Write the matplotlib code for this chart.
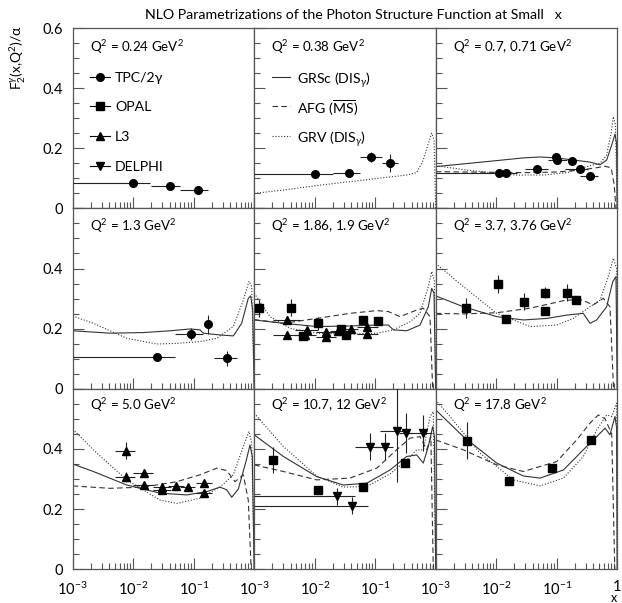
import matplotlib
matplotlib.use('Agg')
import matplotlib.pyplot as plt
from matplotlib.ticker import MultipleLocator, LogLocator, NullFormatter
import numpy as np

plt.rcParams['font.family'] = ['Lato', 'DejaVu Sans']
plt.rcParams['mathtext.fontset'] = 'custom'
plt.rcParams['mathtext.rm'] = 'Lato'
plt.rcParams['mathtext.it'] = 'Lato:italic'
plt.rcParams['mathtext.bf'] = 'Lato:bold'

# --- Courbes théoriques : GRSc (trait plein), AFG (tirets), GRV (pointillés) ---

# Q2 = 0.38
grv_038_x = [0.001, 0.00303, 0.0108, 0.0383, 0.136, 0.332, 0.485, 0.624, 0.755, 0.859, 0.938, 1.0]
grv_038_y = [0.050, 0.061, 0.076, 0.089, 0.102, 0.111, 0.119, 0.161, 0.216, 0.250, 0.227, 0.0]

# Q2 = 0.7, 0.71
grsc_07_x = [0.001, 0.00286, 0.0102, 0.0281, 0.053, 0.1, 0.188, 0.355, 0.52, 0.67, 0.811, 0.92, 0.977, 1.0]
grsc_07_y = [0.139, 0.148, 0.159, 0.168, 0.171, 0.168, 0.161, 0.154, 0.145, 0.161, 0.211, 0.247, 0.216, 0.0]
afg_07_x = [0.001, 0.01, 0.0316, 0.1, 0.251, 0.447, 0.631, 0.794, 0.891, 0.955]
afg_07_y = [0.122, 0.120, 0.119, 0.121, 0.128, 0.135, 0.140, 0.135, 0.080, 0.0]
grv_07_x = [0.001, 0.00316, 0.01, 0.0219, 0.0631, 0.158, 0.243, 0.355, 0.52, 0.661, 0.794, 0.863, 0.933, 1.0]
grv_07_y = [0.142, 0.128, 0.117, 0.111, 0.111, 0.120, 0.133, 0.142, 0.150, 0.175, 0.250, 0.305, 0.280, 0.0]

# Q2 = 1.3
grsc_13_x = [0.001, 0.00413, 0.0147, 0.0406, 0.0869, 0.127, 0.144, 0.272, 0.452, 0.621, 0.798, 0.875, 0.944, 1.0]
grsc_13_y = [0.193, 0.185, 0.187, 0.193, 0.199, 0.196, 0.185, 0.179, 0.176, 0.218, 0.301, 0.309, 0.262, 0.0]
grv_13_x = [0.001, 0.00219, 0.00782, 0.0244, 0.0524, 0.127, 0.24, 0.452, 0.661, 0.82, 0.91, 1.0]
grv_13_y = [0.242, 0.218, 0.168, 0.149, 0.151, 0.157, 0.168, 0.207, 0.295, 0.358, 0.340, 0.0]

# Q2 = 1.86, 1.9
grsc_19_x = [0.001, 0.00303, 0.0108, 0.0383, 0.106, 0.165, 0.2, 0.332, 0.55, 0.755, 0.859, 0.938, 1.0]
grsc_19_y = [0.229, 0.218, 0.207, 0.209, 0.212, 0.212, 0.196, 0.193, 0.212, 0.273, 0.334, 0.318, 0.0]
afg_19_x = [0.001, 0.00303, 0.0108, 0.0383, 0.106, 0.165, 0.257, 0.485, 0.624, 0.805, 0.891]
afg_19_y = [0.230, 0.218, 0.234, 0.251, 0.260, 0.257, 0.240, 0.262, 0.268, 0.240, 0.0]
grv_19_x = [0.001, 0.00182, 0.00391, 0.0108, 0.0383, 0.106, 0.2, 0.376, 0.55, 0.755, 0.859, 0.948, 1.0]
grv_19_y = [0.318, 0.240, 0.201, 0.185, 0.182, 0.185, 0.196, 0.223, 0.251, 0.340, 0.390, 0.360, 0.0]

# Q2 = 3.7, 3.76
grsc_37_x = [0.001, 0.00286, 0.0102, 0.0281, 0.0684, 0.146, 0.275, 0.355, 0.458, 0.67, 0.843, 0.955, 1.0]
grsc_37_y = [0.309, 0.273, 0.240, 0.229, 0.234, 0.245, 0.251, 0.218, 0.229, 0.273, 0.356, 0.373, 0.0]
afg_37_x = [0.001, 0.00286, 0.0102, 0.0363, 0.129, 0.243, 0.403, 0.589, 0.759, 0.871]
afg_37_y = [0.251, 0.249, 0.253, 0.268, 0.293, 0.298, 0.279, 0.301, 0.273, 0.0]
grv_37_x = [0.001, 0.00286, 0.0102, 0.0363, 0.1, 0.188, 0.355, 0.52, 0.713, 0.863, 0.977, 1.0]
grv_37_y = [0.417, 0.340, 0.251, 0.207, 0.212, 0.234, 0.273, 0.295, 0.373, 0.434, 0.400, 0.0]

# Q2 = 5.0
grsc_50_x = [0.001, 0.00219, 0.00782, 0.0277, 0.0766, 0.164, 0.272, 0.351, 0.425, 0.547, 0.731, 0.851, 0.931, 1.0]
grsc_50_y = [0.350, 0.325, 0.280, 0.253, 0.247, 0.258, 0.273, 0.264, 0.239, 0.267, 0.358, 0.413, 0.375, 0.0]
afg_50_x = [0.001, 0.00413, 0.0147, 0.0524, 0.127, 0.24, 0.351, 0.482, 0.661, 0.798, 0.891]
afg_50_y = [0.277, 0.269, 0.273, 0.291, 0.314, 0.336, 0.328, 0.291, 0.314, 0.230, 0.0]
grv_50_x = [0.001, 0.00219, 0.00782, 0.0277, 0.0524, 0.127, 0.272, 0.452, 0.705, 0.82, 0.91, 1.0]
grv_50_y = [0.466, 0.397, 0.297, 0.230, 0.219, 0.236, 0.273, 0.314, 0.424, 0.458, 0.420, 0.0]

# Q2 = 10.7, 12
grsc_12_x = [0.001, 0.00303, 0.0108, 0.0297, 0.0724, 0.176, 0.332, 0.485, 0.624, 0.755, 0.891, 0.955, 1.0]
grsc_12_y = [0.447, 0.375, 0.308, 0.280, 0.286, 0.330, 0.375, 0.380, 0.353, 0.408, 0.474, 0.440, 0.0]
afg_12_x = [0.001, 0.00303, 0.0108, 0.0383, 0.106, 0.226, 0.376, 0.55, 0.71, 0.832, 0.912]
afg_12_y = [0.347, 0.325, 0.297, 0.303, 0.336, 0.397, 0.436, 0.441, 0.397, 0.440, 0.0]
grv_12_x = [0.001, 0.00303, 0.0108, 0.0297, 0.0724, 0.176, 0.332, 0.485, 0.624, 0.805, 0.912, 1.0]
grv_12_y = [0.519, 0.408, 0.310, 0.273, 0.275, 0.317, 0.363, 0.397, 0.397, 0.507, 0.524, 0.0]

# Q2 = 17.8
grsc_178_x = [0.001, 0.00286, 0.0102, 0.0281, 0.053, 0.129, 0.275, 0.458, 0.631, 0.759, 0.92, 0.977, 1.0]
grsc_178_y = [0.530, 0.441, 0.353, 0.310, 0.303, 0.330, 0.397, 0.441, 0.469, 0.447, 0.508, 0.470, 0.0]
afg_178_x = [0.001, 0.00286, 0.0102, 0.0281, 0.1, 0.214, 0.355, 0.488, 0.631, 0.811, 0.912]
afg_178_y = [0.430, 0.397, 0.347, 0.325, 0.358, 0.430, 0.486, 0.513, 0.500, 0.450, 0.0]
grv_178_x = [0.001, 0.00172, 0.0054, 0.0192, 0.053, 0.129, 0.275, 0.458, 0.67, 0.813, 0.977, 1.0]
grv_178_y = [0.563, 0.508, 0.386, 0.297, 0.277, 0.303, 0.375, 0.463, 0.513, 0.508, 0.552, 0.0]

# --- Mesures (x, F2/alpha, bornes en x, erreur en F2) ---

tpc_024_x = [0.010, 0.0405, 0.119]
tpc_024_y = [0.083, 0.0745, 0.061]
tpc_024_xlo = [0.001, 0.020, 0.0605]
tpc_024_xhi = [0.0192, 0.0594, 0.174]
tpc_024_err = [0.003, 0.003, 0.003]

tpc_038_x = [0.0101, 0.0369, 0.0843, 0.176]
tpc_038_y = [0.113, 0.117, 0.172, 0.150]
tpc_038_xlo = [0.001, 0.0204, 0.0562, 0.128]
tpc_038_xhi = [0.0204, 0.0562, 0.128, 0.241]
tpc_038_err = [0.003, 0.005, 0.017, 0.030]

tpc_07_x = [0.0111, 0.0145, 0.048, 0.096, 0.101, 0.177, 0.243, 0.355]
tpc_07_y = [0.119, 0.117, 0.130, 0.170, 0.161, 0.159, 0.130, 0.108]
tpc_07_xlo = [0.001, 0.0123, 0.0299, 0.085, 0.0726, 0.160, 0.137, 0.243]
tpc_07_xhi = [0.0123, 0.0218, 0.0726, 0.110, 0.146, 0.195, 0.333, 0.488]
tpc_07_err = [0.004, 0.004, 0.006, 0.012, 0.008, 0.012, 0.008, 0.012]

tpc_13_x = [0.025, 0.089, 0.170, 0.359]
tpc_13_y = [0.105, 0.182, 0.214, 0.101]
tpc_13_xlo = [0.001, 0.0491, 0.160, 0.216]
tpc_13_xhi = [0.0491, 0.144, 0.180, 0.514]
tpc_13_err = [0.004, 0.020, 0.033, 0.025]

opal_19_x = [0.00122, 0.00401, 0.0065, 0.0112, 0.0269, 0.0325, 0.062, 0.110]
opal_19_y = [0.268, 0.270, 0.177, 0.218, 0.199, 0.179, 0.229, 0.225]
opal_19_err = [0.028, 0.028, 0.008, 0.022, 0.010, 0.010, 0.012, 0.008]

l3_19_x = [0.00352, 0.00352, 0.0069, 0.0074, 0.0154, 0.0154, 0.0245, 0.0394, 0.074, 0.074]
l3_19_y = [0.229, 0.179, 0.178, 0.196, 0.173, 0.188, 0.192, 0.198, 0.204, 0.182]
l3_19_xlo = [0.00207, 0.00207, 0.0045, 0.0047, 0.0105, 0.0105, 0.018, 0.030, 0.050, 0.050]
l3_19_xhi = [0.00571, 0.00571, 0.0105, 0.0115, 0.0225, 0.0225, 0.033, 0.052, 0.110, 0.110]
l3_19_err = [0.012, 0.008, 0.008, 0.010, 0.010, 0.010, 0.010, 0.010, 0.015, 0.010]

opal_37_x = [0.00317, 0.01084, 0.0145, 0.0288, 0.0649, 0.0649, 0.146, 0.206]
opal_37_y = [0.270, 0.349, 0.231, 0.290, 0.320, 0.260, 0.320, 0.295]
opal_37_err = [0.033, 0.030, 0.008, 0.028, 0.018, 0.008, 0.027, 0.010]

l3_50_x = [0.0075, 0.0075, 0.0151, 0.0151, 0.0303, 0.0303, 0.0504, 0.0794, 0.150, 0.150]
l3_50_y = [0.394, 0.306, 0.321, 0.280, 0.275, 0.264, 0.278, 0.273, 0.288, 0.253]
l3_50_xlo = [0.005, 0.005, 0.010, 0.010, 0.021, 0.021, 0.037, 0.060, 0.110, 0.110]
l3_50_xhi = [0.0107, 0.0107, 0.0215, 0.0215, 0.042, 0.042, 0.068, 0.105, 0.200, 0.200]
l3_50_err = [0.028, 0.017, 0.012, 0.010, 0.010, 0.010, 0.010, 0.010, 0.010, 0.010]

opal_12_x = [0.00207, 0.0115, 0.0636, 0.311]
opal_12_y = [0.363, 0.264, 0.275, 0.353]
opal_12_err = [0.042, 0.008, 0.010, 0.010]

delphi_12_x = [0.0237, 0.0408, 0.082, 0.145, 0.226, 0.319, 0.624]
delphi_12_y = [0.242, 0.211, 0.408, 0.408, 0.458, 0.452, 0.452]
delphi_12_xlo = [0.001, 0.001, 0.0464, 0.100, 0.120, 0.250, 0.331]
delphi_12_xhi = [0.0464, 0.0769, 0.136, 0.200, 0.311, 0.400, 0.859]
delphi_12_err = [0.028, 0.028, 0.044, 0.044, 0.167, 0.066, 0.060]

opal_178_x = [0.00325, 0.0165, 0.0836, 0.365]
opal_178_y = [0.428, 0.295, 0.336, 0.430]
opal_178_err = [0.060, 0.008, 0.010, 0.010]

q2_values = [
    ["0.24", "0.38", "0.7, 0.71"],
    ["1.3", "1.86, 1.9", "3.7, 3.76"],
    ["5.0", "10.7, 12", "17.8"],
]
exp_names = ['TPC/2γ', 'OPAL', 'L3', 'DELPHI']
fit_names = ['GRSc (DIS$_\\gamma$)', 'AFG ($\\overline{\\rm MS}$)', 'GRV (DIS$_\\gamma$)']

CURVE = '#333333'
FRAME = '#555555'
SOLID, DASHED, DOTTED = '-', (0, (5, 3)), (0, (1, 1.6))

# panneau -> liste de courbes (x, y, style)
curves = {
    (0, 1): [(grv_038_x, grv_038_y, DOTTED)],
    (0, 2): [(grsc_07_x, grsc_07_y, SOLID), (afg_07_x, afg_07_y, DASHED), (grv_07_x, grv_07_y, DOTTED)],
    (1, 0): [(grsc_13_x, grsc_13_y, SOLID), (grv_13_x, grv_13_y, DOTTED)],
    (1, 1): [(grsc_19_x, grsc_19_y, SOLID), (afg_19_x, afg_19_y, DASHED), (grv_19_x, grv_19_y, DOTTED)],
    (1, 2): [(grsc_37_x, grsc_37_y, SOLID), (afg_37_x, afg_37_y, DASHED), (grv_37_x, grv_37_y, DOTTED)],
    (2, 0): [(grsc_50_x, grsc_50_y, SOLID), (afg_50_x, afg_50_y, DASHED), (grv_50_x, grv_50_y, DOTTED)],
    (2, 1): [(grsc_12_x, grsc_12_y, SOLID), (afg_12_x, afg_12_y, DASHED), (grv_12_x, grv_12_y, DOTTED)],
    (2, 2): [(grsc_178_x, grsc_178_y, SOLID), (afg_178_x, afg_178_y, DASHED), (grv_178_x, grv_178_y, DOTTED)],
}

# panneau -> liste de jeux de mesures (x, y, xlo, xhi, erreur, marqueur, taille)
points = {
    (0, 0): [(tpc_024_x, tpc_024_y, tpc_024_xlo, tpc_024_xhi, tpc_024_err, 'o', 5.5)],
    (0, 1): [(tpc_038_x, tpc_038_y, tpc_038_xlo, tpc_038_xhi, tpc_038_err, 'o', 5.5)],
    (0, 2): [(tpc_07_x, tpc_07_y, tpc_07_xlo, tpc_07_xhi, tpc_07_err, 'o', 5.5)],
    (1, 0): [(tpc_13_x, tpc_13_y, tpc_13_xlo, tpc_13_xhi, tpc_13_err, 'o', 5.5)],
    (1, 1): [(opal_19_x, opal_19_y, None, None, opal_19_err, 's', 5.5),
             (l3_19_x, l3_19_y, l3_19_xlo, l3_19_xhi, l3_19_err, '^', 6)],
    (1, 2): [(opal_37_x, opal_37_y, None, None, opal_37_err, 's', 5.5)],
    (2, 0): [(l3_50_x, l3_50_y, l3_50_xlo, l3_50_xhi, l3_50_err, '^', 6)],
    (2, 1): [(opal_12_x, opal_12_y, None, None, opal_12_err, 's', 5.5),
             (delphi_12_x, delphi_12_y, delphi_12_xlo, delphi_12_xhi, delphi_12_err, 'v', 6)],
    (2, 2): [(opal_178_x, opal_178_y, None, None, opal_178_err, 's', 5.5)],
}

fig = plt.figure(figsize=(6.22, 6.03), dpi=100)

W, H = 622.0, 603.0
left0, top0 = 72.7, 28.0
pw, ph = 181.5, 180.4
label_y = [0.897, 0.9, 0.91]

axes = {}
for r in range(3):
    for c in range(3):
        ax = fig.add_axes([(left0 + c * pw) / W, 1 - (top0 + (r + 1) * ph) / H, pw / W, ph / H])
        axes[(r, c)] = ax
        ax.set_xscale('log')
        ax.set_xlim(1e-3, 1)
        ax.set_ylim(0, 0.6)
        for s in ax.spines.values():
            s.set_color(FRAME)
            s.set_linewidth(0.9)
        ax.tick_params(which='both', direction='in', top=False, right=False, color=FRAME, width=0.8)
        ax.tick_params(which='major', length=8, labelsize=10.5)
        ax.tick_params(axis='x', which='major', pad=8)
        ax.tick_params(axis='y', which='major', pad=7)
        ax.tick_params(which='minor', length=4.5)
        ax.xaxis.set_minor_locator(LogLocator(base=10, subs=np.arange(2, 10), numticks=12))
        ax.xaxis.set_minor_formatter(NullFormatter())
        ax.set_xticks([1e-3, 1e-2, 1e-1, 1])
        if r == 2:
            ax.set_xticklabels(['$10^{-3}$', '$10^{-2}$', '$10^{-1}$', '1' if c == 2 else ''])
        else:
            ax.set_xticklabels([])
        ax.set_yticks([0, 0.2, 0.4, 0.6])
        ax.yaxis.set_minor_locator(MultipleLocator(0.05))
        if c == 0:
            ax.set_yticklabels(['0', '0.2', '0.4', '0.6' if r == 0 else ''])
        else:
            ax.set_yticklabels([])

        for cx, cy, ls in curves.get((r, c), []):
            ax.plot(cx, cy, color=CURVE, lw=0.8, ls=ls)

        for px, py, xlo, xhi, err, mk, ms in points.get((r, c), []):
            xerr = None
            if xlo is not None:
                xerr = [np.subtract(px, xlo), np.subtract(xhi, px)]
            ax.errorbar(px, py, xerr=xerr, yerr=err, fmt=mk, ms=ms, color='black',
                        ecolor='#222222', elinewidth=0.8, capsize=0, zorder=5)

        ax.text(0.095, label_y[r], 'Q$^2$ = %s GeV$^2$' % q2_values[r][c], transform=ax.transAxes,
                fontsize=9.6, va='center', ha='left')

# légendes dessinées à la main (lignes régulières)
leg_rows = [0.730, 0.565, 0.400, 0.236]
ax = axes[(0, 0)]
for i, (name, mk, ms) in enumerate(zip(exp_names, ['o', 's', '^', 'v'], [5.5, 5.5, 6, 6])):
    yy = leg_rows[i]
    ax.plot([0.095, 0.205], [yy, yy], color='black', lw=0.8, transform=ax.transAxes)
    ax.plot([0.150], [yy], marker=mk, ms=ms, color='black', transform=ax.transAxes)
    ax.text(0.233, yy, name, transform=ax.transAxes, fontsize=10.2, va='center_baseline', ha='left')

ax = axes[(0, 1)]
for i, (name, ls) in enumerate(zip(fit_names, [SOLID, DASHED, DOTTED])):
    yy = leg_rows[i]
    ax.plot([0.096, 0.197], [yy, yy], color=CURVE, lw=0.8, ls=ls, transform=ax.transAxes)
    ax.text(0.234, yy, name, transform=ax.transAxes, fontsize=10.2, va='center_baseline', ha='left')

fig.text(0.568, 0.975, 'NLO Parametrizations of the Photon Structure Function at Small   x',
         ha='center', va='center', fontsize=10.2)
fig.text(0.03, 1 - 57 / H, 'F$_2^\\gamma$(x,Q$^2$)/α', rotation=90, ha='center', va='center', fontsize=10)
fig.text(614 / W, 1.5 / H, 'x', ha='center', va='baseline', fontsize=9)

fig.savefig('out.png', dpi=100)
